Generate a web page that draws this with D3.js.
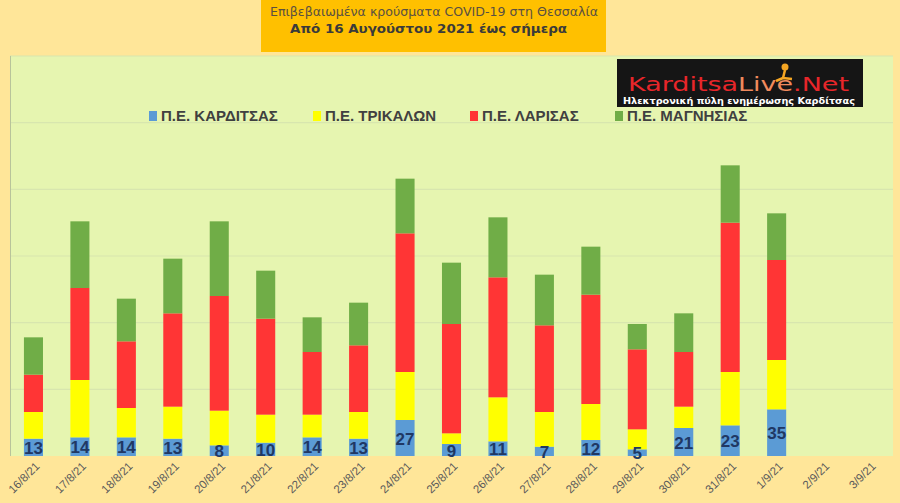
<!DOCTYPE html>
<html>
<head>
<meta charset="utf-8">
<script src="https://cdn.jsdelivr.net/npm/d3@7"></script>
<style>
  html, body { margin: 0; padding: 0; background: #FFE699; }
  svg { display: block; }
</style>
</head>
<body>
<svg id="chart" width="900" height="503"></svg>
<script>
// dates on the x axis, last two days have no data yet
const dates = ['16/8/21', '17/8/21', '18/8/21', '19/8/21', '20/8/21', '21/8/21', '22/8/21',
    '23/8/21', '24/8/21', '25/8/21', '26/8/21', '27/8/21', '28/8/21', '29/8/21', '30/8/21',
    '31/8/21', '1/9/21', '2/9/21', '3/9/21'];

// daily cases per regional unit
const karditsa = [13, 14, 14, 13, 8, 10, 14, 13, 27, 9, 11, 7, 12, 5, 21, 23, 35];
const trikala  = [20, 43, 22, 24, 26, 21, 17, 20, 36, 8, 33, 26, 27, 15, 16, 40, 37];
const larisa   = [28, 69, 50, 70, 86, 72, 47, 50, 104, 82, 90, 65, 82, 60, 41, 112, 75];
const magnisia = [28, 50, 32, 41, 56, 36, 26, 32, 41, 46, 45, 38, 36, 19, 29, 43, 35];

const seriesNames = ['Π.Ε. ΚΑΡΔΙΤΣΑΣ', 'Π.Ε. ΤΡΙΚΑΛΩΝ', 'Π.Ε. ΛΑΡΙΣΑΣ', 'Π.Ε. ΜΑΓΝΗΣΙΑΣ'];
const seriesKeys = ['karditsa', 'trikala', 'larisa', 'magnisia'];
const colors = ['#5B9BD5', '#FFFF00', '#FF3535', '#70AD47'];

const svg = d3.select('#chart');
const plot = { left: 10, right: 893, top: 56, bottom: 456 };

// table for d3.stack, missing days become zero height
const table = dates.map((d, i) => ({
    date: d,
    karditsa: karditsa[i] ?? 0,
    trikala: trikala[i] ?? 0,
    larisa: larisa[i] ?? 0,
    magnisia: magnisia[i] ?? 0
}));

const x = d3.scaleBand()
    .domain(dates)
    .range([plot.left, plot.right])
    .paddingInner(0.59)
    .paddingOuter(0.3);

const y = d3.scaleLinear()
    .domain([0, 300])
    .range([plot.bottom, plot.top]);

// title box
svg.append('rect')
    .attr('x', 261).attr('y', 0)
    .attr('width', 345).attr('height', 52)
    .attr('fill', '#FFC000');

svg.append('text')
    .attr('x', 270).attr('y', 16)
    .attr('textLength', 328)
    .attr('lengthAdjust', 'spacingAndGlyphs')
    .style('font', '12.5px "DejaVu Sans", sans-serif')
    .attr('fill', '#5a5040')
    .text('Επιβεβαιωμένα κρούσματα COVID-19 στη Θεσσαλία');

svg.append('text')
    .attr('x', 290).attr('y', 33)
    .attr('textLength', 277)
    .attr('lengthAdjust', 'spacingAndGlyphs')
    .style('font', 'bold 12.5px "DejaVu Sans", sans-serif')
    .attr('fill', '#3a3a3a')
    .text('Από 16 Αυγούστου 2021 έως σήμερα');

// plot area
svg.append('rect')
    .attr('x', plot.left).attr('y', plot.top)
    .attr('width', plot.right - plot.left)
    .attr('height', plot.bottom - plot.top)
    .attr('fill', '#E6F5B0');

svg.append('g')
    .selectAll('line')
    .data(y.ticks(6).filter(t => t > 0))
    .join('line')
    .attr('x1', plot.left).attr('x2', plot.right)
    .attr('y1', d => y(d)).attr('y2', d => y(d))
    .attr('stroke', '#D8E6AE')
    .attr('stroke-width', 1.2);

svg.append('line')
    .attr('x1', plot.left + 0.5).attr('x2', plot.left + 0.5)
    .attr('y1', plot.top).attr('y2', plot.bottom)
    .attr('stroke', '#B8C49A');

// stacked bars
const stacked = d3.stack().keys(seriesKeys)(table);

svg.append('g')
    .selectAll('g')
    .data(stacked)
    .join('g')
    .attr('fill', (d, i) => colors[i])
    .selectAll('rect')
    .data(d => d)
    .join('rect')
    .attr('x', d => x(d.data.date))
    .attr('width', x.bandwidth())
    .attr('y', d => y(d[1]))
    .attr('height', d => y(d[0]) - y(d[1]));

// Karditsa value labels inside the blue segment
svg.append('g')
    .selectAll('text')
    .data(karditsa)
    .join('text')
    .attr('x', (d, i) => x(dates[i]) + x.bandwidth() / 2)
    .attr('y', d => (y(0) + y(d)) / 2 + 1)
    .attr('text-anchor', 'middle')
    .attr('dominant-baseline', 'central')
    .style('font', 'bold 17px "Liberation Sans", Arial, sans-serif')
    .attr('fill', '#203864')
    .text(d => d);

// x axis labels, rotated
const xAxis = svg.append('g')
    .attr('transform', `translate(0,${plot.bottom})`)
    .call(d3.axisBottom(x).tickSize(0).tickPadding(0));
xAxis.select('.domain').remove();
xAxis.selectAll('text')
    .attr('transform', 'translate(2,6) rotate(-45)')
    .attr('text-anchor', 'end')
    .attr('dy', '0.6em')
    .attr('dx', '0')
    .attr('y', 0)
    .style('font', '11.5px "Liberation Sans", Arial, sans-serif')
    .attr('fill', '#595959');

// legend
const legendX = [149, 313, 470, 615];
const legend = svg.append('g')
    .selectAll('g')
    .data(seriesNames)
    .join('g')
    .attr('transform', (d, i) => `translate(${legendX[i]},111)`);
legend.append('rect')
    .attr('width', 8).attr('height', 10)
    .attr('fill', (d, i) => colors[i]);
legend.append('text')
    .attr('x', 12).attr('y', 10)
    .style('font', 'bold 15px "Liberation Sans", Arial, sans-serif')
    .attr('fill', '#404040')
    .text(d => d);

// site logo in the corner
const logo = svg.append('g').attr('transform', 'translate(617,59)');
logo.append('rect')
    .attr('width', 246).attr('height', 48)
    .attr('fill', '#151515');
const brand = logo.append('text')
    .attr('x', 11).attr('y', 32)
    .attr('textLength', 221)
    .attr('lengthAdjust', 'spacingAndGlyphs')
    .style('font', '20px "DejaVu Sans", sans-serif');
brand.append('tspan').attr('fill', '#E8262A').text('Karditsa');
brand.append('tspan').attr('fill', '#F08A5D').text('Live');
brand.append('tspan').attr('fill', '#E8262A').text('.Net');
logo.append('circle')
    .attr('cx', 168).attr('cy', 8).attr('r', 3.5)
    .attr('fill', '#F5A623');
logo.append('path')
    .attr('d', 'M168,11 L166,19 L159,22 M166,19 L175,20')
    .attr('stroke', '#F5A623').attr('stroke-width', 2.5)
    .attr('fill', 'none');
logo.append('text')
    .attr('x', 6).attr('y', 45)
    .attr('textLength', 232)
    .attr('lengthAdjust', 'spacingAndGlyphs')
    .style('font', 'bold 8px "DejaVu Sans", sans-serif')
    .attr('fill', '#ffffff')
    .text('Ηλεκτρονική πύλη ενημέρωσης Καρδίτσας');
</script>
</body>
</html>
